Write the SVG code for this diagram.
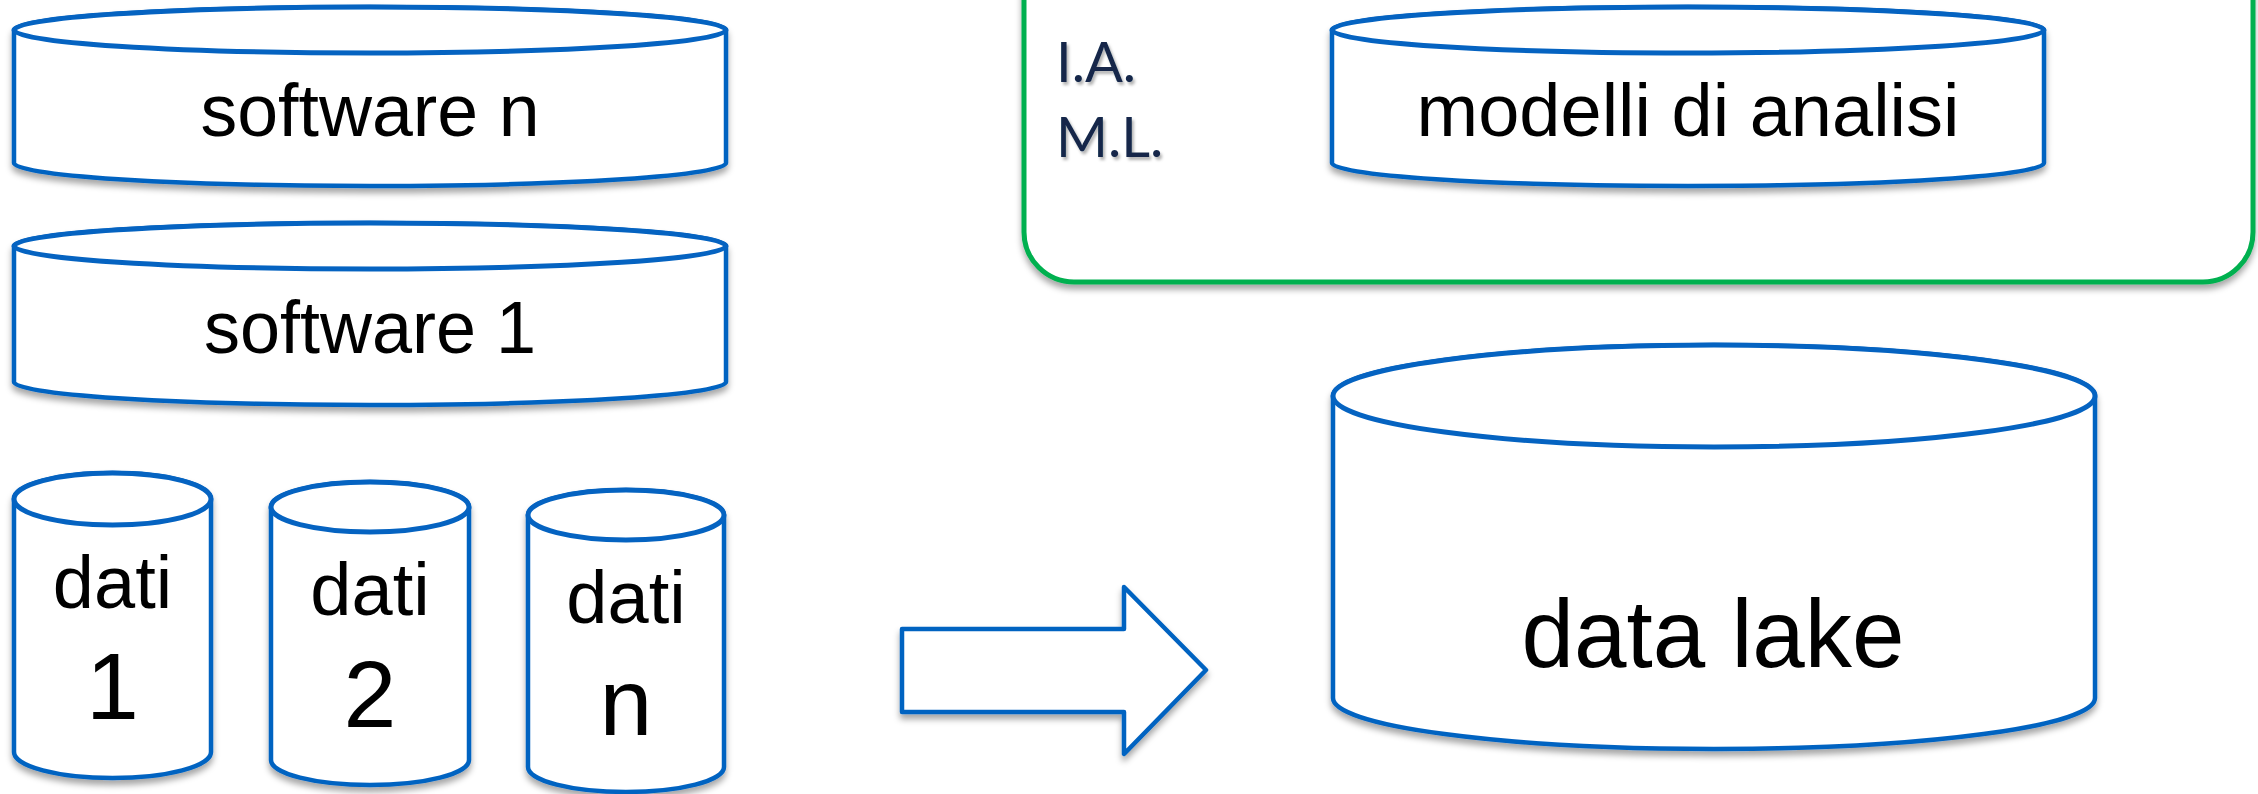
<svg xmlns="http://www.w3.org/2000/svg" width="2258" height="794" viewBox="0 0 2258 794">
<defs>
<filter id="sh" x="-10%" y="-10%" width="120%" height="130%">
<feDropShadow dx="0" dy="5" stdDeviation="3" flood-color="#000" flood-opacity="0.35"/>
</filter>
<filter id="tsh" x="-10%" y="-10%" width="130%" height="140%">
<feDropShadow dx="2" dy="3" stdDeviation="1.5" flood-color="#000" flood-opacity="0.3"/>
</filter>
</defs>
<style>
.cyl{fill:#fff;stroke:#0563C1;stroke-width:4.5;stroke-linejoin:round}
.top{fill:#fff;stroke:#0563C1;stroke-width:5}
.t{font-family:"Liberation Sans",Arial,sans-serif;fill:#000;text-anchor:middle}
.lab{font-family:Lato,"Liberation Sans",sans-serif;fill:#12284A;font-size:56px}
</style>
<rect width="2258" height="794" fill="#fff"/>

<g id="ai-box">
<rect x="1024" y="-80" width="1229" height="362" rx="50" ry="50" fill="#fff" stroke="#00B050" stroke-width="5" filter="url(#sh)"/>
<text class="lab" x="1056" y="82" filter="url(#tsh)">I.A.</text>
<text class="lab" x="1056" y="157" filter="url(#tsh)">M.L.</text>
</g>

<g id="software-n">
<path class="cyl" filter="url(#sh)" d="M14 30 V163 A356 23 0 0 0 726 163 V30 A356 23 0 0 0 14 30 Z"/>
<ellipse class="top" cx="370" cy="30" rx="356" ry="23"/>
<text class="t" x="370" y="136" font-size="75" textLength="339" lengthAdjust="spacingAndGlyphs">software n</text>
</g>

<g id="software-1">
<path class="cyl" filter="url(#sh)" d="M14 246 V382 A356 23 0 0 0 726 382 V246 A356 23 0 0 0 14 246 Z"/>
<ellipse class="top" cx="370" cy="246" rx="356" ry="23"/>
<text class="t" x="370" y="353" font-size="75" textLength="332" lengthAdjust="spacingAndGlyphs">software 1</text>
</g>

<g id="dati-1">
<path class="cyl" filter="url(#sh)" d="M14 499 V752 A98.5 26 0 0 0 211 752 V499 A98.5 26 0 0 0 14 499 Z"/>
<ellipse class="top" cx="112.5" cy="499" rx="98.5" ry="26"/>
<text class="t" x="112.5" y="608" font-size="74">dati</text>
<text class="t" x="112.5" y="719" font-size="95">1</text>
</g>

<g id="dati-2">
<path class="cyl" filter="url(#sh)" d="M271 507 V760 A99 25 0 0 0 469 760 V507 A99 25 0 0 0 271 507 Z"/>
<ellipse class="top" cx="370" cy="507" rx="99" ry="25"/>
<text class="t" x="370" y="615" font-size="74">dati</text>
<text class="t" x="370" y="727" font-size="95">2</text>
</g>

<g id="dati-n">
<path class="cyl" filter="url(#sh)" d="M528 515 V767 A98 25 0 0 0 724 767 V515 A98 25 0 0 0 528 515 Z"/>
<ellipse class="top" cx="626" cy="515" rx="98" ry="25"/>
<text class="t" x="626" y="623" font-size="74">dati</text>
<text class="t" x="626" y="735" font-size="95">n</text>
</g>

<g id="modelli-di-analisi">
<path class="cyl" filter="url(#sh)" d="M1332 30 V163 A356 23 0 0 0 2044 163 V30 A356 23 0 0 0 1332 30 Z"/>
<ellipse class="top" cx="1688" cy="30" rx="356" ry="23"/>
<text class="t" x="1688" y="136" font-size="75" textLength="543" lengthAdjust="spacingAndGlyphs">modelli di analisi</text>
</g>

<g id="data-lake">
<path class="cyl" filter="url(#sh)" d="M1333 396 V698 A381 51 0 0 0 2095 698 V396 A381 51 0 0 0 1333 396 Z"/>
<ellipse class="top" cx="1714" cy="396" rx="381" ry="51"/>
<text class="t" x="1713" y="667" font-size="97" textLength="383" lengthAdjust="spacingAndGlyphs">data lake</text>
</g>

<g id="connectors">
<path class="cyl" filter="url(#sh)" d="M902 629 H1124 V587 L1206 670 L1124 754 V712 H902 Z"/>
</g>
</svg>
